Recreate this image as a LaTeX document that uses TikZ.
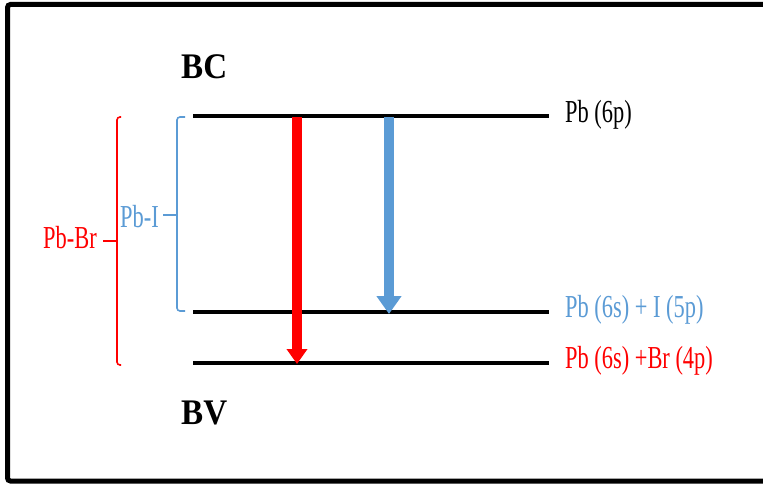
\documentclass[tikz,border=0pt]{standalone}
\usepackage{fontspec}
\setmainfont{Liberation Serif}
\newfontfamily\labfont[FakeStretch=0.7]{Liberation Serif}
\newfontfamily\bandfont[FakeStretch=0.92]{Liberation Serif}
\usetikzlibrary{arrows.meta}
\definecolor{pbred}{HTML}{FF0000}
\definecolor{pbblue}{HTML}{5B9BD5}
\tikzset{
  level/.style={line width=4pt, black},
  lab/.style={inner sep=0pt, font=\labfont\fontsize{32}{32}\selectfont},
  band/.style={inner sep=0pt, font=\bandfont\bfseries\fontsize{36}{36}\selectfont},
  brk/.style={line width=1.6pt, rounded corners=3pt},
  redarrow/.style={pbred, line width=10pt, -{Triangle[width=20pt,length=15pt]}},
  bluearrow/.style={pbblue, line width=10pt, -{Triangle[width=24pt,length=18pt]}},
}
\begin{document}
\begin{tikzpicture}[x=1pt,y=-1pt]
\useasboundingbox (0,0) rectangle (763,484);
% frame
\draw[line width=5pt, rounded corners=3pt] (790,4.5) -- (7.5,4.5) -- (7.5,481) -- (790,481);
% level coordinates
\coordinate (cbL) at (193,116); \coordinate (cbR) at (549,116);
\coordinate (viL) at (193,312); \coordinate (viR) at (549,312);
\coordinate (vbL) at (193,363); \coordinate (vbR) at (549,363);
\draw[level] (cbL) -- (cbR);
\draw[level] (viL) -- (viR);
\draw[level] (vbL) -- (vbR);
% arrows
\coordinate (rs) at (297,117); \coordinate (re) at (297,364);
\coordinate (bs) at (389,117); \coordinate (be) at (389,314);
\draw[redarrow] (rs) -- (re);
\draw[bluearrow] (bs) -- (be);
% labels
\node[band, anchor=base west] (bc) at (181,79) {BC};
\node[band, anchor=base west] (bv) at (181,424) {BV};
\node[lab, anchor=base west] (l6p) at (565,123) {Pb (6p)};
\node[lab, anchor=base west, text=pbblue] (l5p) at (565,317) {Pb (6s) + I (5p)};
\node[lab, anchor=base west, text=pbred] (l4p) at (565,368) {Pb (6s) +Br (4p)};
% brackets
\coordinate (rbt) at (121,117); \coordinate (rbb) at (121,365);
\coordinate (rbm) at (117,241); \coordinate (rtk) at (103,241);
\draw[brk, pbred] (rbt) -- (117,117) -- (117,365) -- (rbb);
\draw[line width=1.6pt, pbred] (rbm) -- (rtk);
\node[lab, anchor=base west, text=pbred] (pbbr) at (43,248) {Pb-Br};
\coordinate (bbt) at (185,117); \coordinate (bbb) at (185,311);
\coordinate (bbm) at (177,215); \coordinate (btk) at (163,215);
\draw[brk, pbblue] (bbt) -- (177,117) -- (177,311) -- (bbb);
\draw[line width=1.6pt, pbblue] (bbm) -- (btk);
\node[lab, anchor=base west, text=pbblue] (pbi) at (120,227) {Pb-I};
\end{tikzpicture}
\end{document}
